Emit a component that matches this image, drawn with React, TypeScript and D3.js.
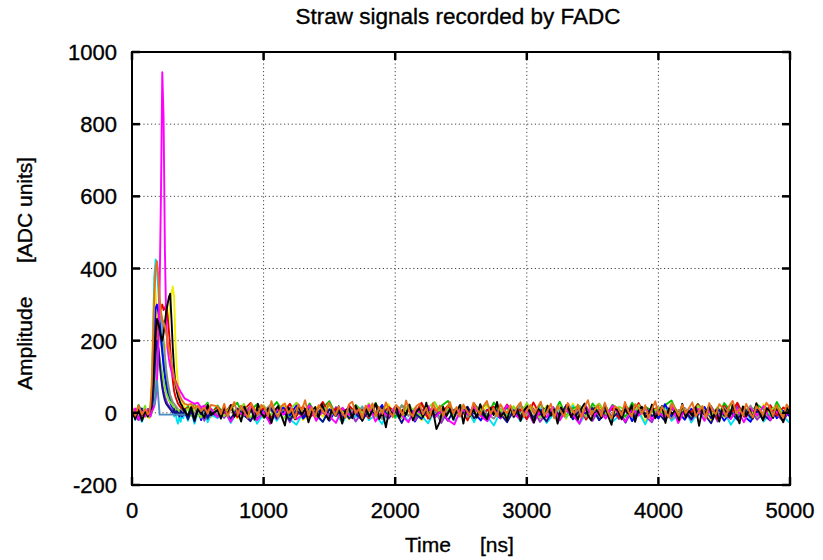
import React, { useEffect, useRef } from "react";
import * as d3 from "d3";

// axis ticks
const xTicks = [0, 1000, 2000, 3000, 4000, 5000];
const yTicks = [-200, 0, 200, 400, 600, 800, 1000];

// sample times of the head part (pre-trigger, pulse, early tail)
const headTimes = [0, 25, 50, 75, 100, ...d3.range(110, 401, 10), ...d3.range(425, 601, 25)];
const tailStart = 650;
const tailEnd = 5000;

// each trace: head (43 samples on headTimes) + baseline tail (650..5000)
const yellowHead = [-8, 10, -15, 6, -12,
  -10, 5, -15, 10, 80, 250, 380, 330, 260, 220, 200, 230, 210, 180, 170, 190, 220, 260, 300, 330, 350, 320, 200, 120, 80, 50, 40, 30, 25, 15,
  10, 20, 5, -10, 15, -5, 8, -12];
const yellowTail = [12, -8, 20, -15, 5, -22, 18, -3, 9, -17, 25, -6, 14, -20, 3, 16, -11, 22, -9, 7, -18, 11, -4, 19, -13, 2, 24, -16, 8, -7, 15, -21, 4, 17, -10, 21, -5, 13, -19, 6, -12, 23, -2, 10, -23, 18, -8, 1, 14, -15, 20, -6, 9, -17, 26, -11, 5, -20, 16, -3, 12, -14, 19, -9, 3, -24, 15, -7, 22, -12, 8, -18, 11, -1, 17, -22, 6, 13, -10, 20, -4, 9, -16, 24, -8, 2, -19, 14];

const cyanHead = [12, -20, 5, -25, 0,
  5, -10, 0, -5, 40, 200, 380, 425, 400, 340, 280, 230, 190, 150, 120, 90, 70, 50, 35, 25, 10, -10, 5, -20, -30, -10, -25, 0, -15, 5,
  -22, 8, -30, 4, -18, 10, -26, -5];
const cyanTail = [-15, 8, -28, 4, -10, 15, -30, -2, 11, -22, 6, -18, -33, 3, 14, -9, -25, 10, -4, -27, 7, -12, 18, -20, -6, -31, 9, -14, 2, -24, 13, -8, -29, 5, -16, 12, -21, -3, 8, -26, 16, -11, -35, 4, -7, 10, -23, 1, -18, 14, -28, -5, 9, -13, 20, -30, -2, 11, -19, 6, -25, -9, 15, -17, 3, -32, 8, -12, 17, -22, -4, 12, -27, 2, -15, 9, -20, 5, -33, -6, 13, -18, 7, -24, -1, 16, -11, -28];

const greenHead = [15, -5, 22, 3, 10,
  0, -5, 10, -10, 20, 80, 160, 220, 250, 240, 220, 200, 170, 140, 110, 90, 70, 55, 40, 30, 20, 10, 15, 0, 5, -5, 10, 0, 5, -5,
  20, -8, 25, 5, -12, 18, 28, -3];
const greenTail = [20, -5, 12, 28, -10, 6, 24, -14, 9, 30, 2, -12, 18, -3, 26, -8, 14, 32, -6, 10, -15, 22, 4, -9, 27, -2, 16, -11, 21, 8, -16, 25, 1, -7, 19, 33, -4, 11, -13, 23, 5, -10, 29, -1, 15, -12, 20, 7, -17, 24, 3, -6, 31, -9, 13, 18, -14, 26, 0, -8, 22, 10, -11, 28, -3, 17, 6, -15, 21, 34, -5, 12, -9, 25, 2, 19, -13, 27, 4, -7, 16, -2, 23, 9, -12, 30, -4, 14];

const blueHead = [-10, 8, -18, 12, -4,
  -5, 10, -10, 0, 30, 120, 220, 290, 300, 280, 250, 210, 170, 130, 100, 75, 55, 40, 30, 20, 15, 5, 0, 10, -5, 5, 0, -10, 5, 0,
  -15, 12, -6, 18, -20, 4, -12, 9];
const blueTail = [-8, 14, -20, 6, -3, 18, -12, 9, -25, 2, 15, -7, 21, -16, 5, -1, 12, -22, 8, -11, 17, -4, -19, 10, -6, 22, -14, 3, -9, 16, -24, 7, 11, -2, -18, 13, -8, 20, -13, 1, -21, 9, 4, -15, 19, -5, -10, 14, -26, 6, 12, -3, -17, 21, -7, 8, -12, 15, -20, 0, 10, -9, 18, -23, 5, -4, 13, -16, 24, -11, 2, -19, 11, -6, 16, -14, 7, -22, 3, 17, -8, -25, 9, -2, 20, -15, 6, -10];

const purpleHead = [4, -12, 14, -6, 9,
  0, 5, -5, 10, 0, 20, 50, 110, 160, 180, 150, 110, 80, 60, 45, 35, 25, 20, 15, 10, 5, 10, 0, 5, -5, 0, 10, -5, 5, 0,
  -10, 14, -18, 6, 12, -22, 3, -8];
const purpleTail = [6, -14, 11, -3, 19, -22, 4, -9, 15, -17, 8, -26, 13, -5, 20, -11, 2, -19, 16, -7, 10, -24, 5, -13, 21, -2, -16, 12, -8, 18, -21, 3, -10, 14, -28, 7, -4, 17, -15, 9, -1, -20, 13, -6, 22, -12, 5, -18, 11, -25, 0, 16, -9, 8, -14, 19, -3, -22, 10, -7, 15, -17, 4, -11, 23, -8, -26, 12, -2, 18, -13, 6, -20, 9, -5, 14, -24, 3, -16, 20, -10, 7, -19, 1, 13, -6, -23, 11];

const redHead = [10, -4, 18, -8, 6,
  0, -10, 5, 0, 10, 40, 100, 170, 230, 260, 280, 290, 300, 285, 290, 300, 270, 230, 180, 130, 90, 60, 45, 35, 25, 20, 15, 10, 5, 10,
  14, -6, 20, 2, -10, 16, 8, -4];
const redTail = [15, -6, 22, -12, 8, 27, -3, 14, -18, 10, 2, 25, -9, 18, -14, 6, 30, -5, 12, -20, 20, -1, 9, -15, 24, -8, 16, 3, -11, 21, -4, 28, -16, 11, 0, 19, -10, 13, -21, 26, -7, 7, 17, -13, 23, -2, 10, -17, 29, -6, 14, 4, -12, 21, -9, 18, -19, 8, 25, -4, 12, -14, 20, -1, 27, -11, 6, 16, -8, 22, -15, 9, 2, 24, -6, 13, -18, 19, -3, 28, -10, 11, 5, -16, 21, -7, 15, -2];

const greyHead = [-2, 9, -12, 5, 0,
  5, 0, -5, 10, 0, 20, 60, 120, 180, 230, 260, 270, 240, 200, 160, 120, 90, 70, 50, 40, 30, 25, 20, 15, 10, 5, 10, 0, 5, 0,
  -8, 12, -4, 15, -14, 6, -2, 10];
const greyTail = [-4, 11, -15, 8, -1, 17, -10, 3, 22, -8, 6, -19, 13, -2, 9, -14, 18, -6, 1, -21, 12, -5, 16, -11, 4, -17, 10, -3, 20, -9, 7, -13, 15, -1, -18, 9, -7, 14, -12, 5, 19, -4, -16, 11, 2, -10, 21, -6, 8, -15, 13, 0, -20, 17, -3, 10, -12, 6, -8, 18, -14, 3, -22, 12, -5, 9, -11, 16, -2, -17, 7, 14, -9, 4, -19, 11, -1, 15, -13, 8, -6, 20, -10, 2, -15, 12, -4, 9];

const lightGreenHead = [8, -6, 15, -2, 20,
  0, 5, -10, 5, 0, 10, 30, 70, 110, 140, 150, 130, 110, 90, 70, 55, 45, 35, 30, 25, 20, 15, 10, 5, 10, 0, 5, -5, 0, 5,
  12, -8, 20, 4, -12, 16, 24, -2];
const lightGreenTail = [10, -9, 18, -4, 25, -13, 7, 21, -7, 14, -17, 9, 28, -2, 16, -11, 5, 22, -8, 12, -15, 19, -1, 26, -10, 8, -5, 17, -14, 23, 2, -9, 15, 30, -6, 11, -12, 20, 4, -16, 13, 24, -3, 9, -11, 18, -7, 27, 1, -13, 15, -4, 21, -10, 6, 19, -8, 12, 25, -2, -15, 17, 8, -6, 22, -11, 3, 14, -9, 28, -1, 10, -14, 20, 5, -7, 16, -12, 24, 0, 11, -5, 18, -10, 6, 21, -3, 13];

const darkBlueHead = [-12, 4, -20, 8, -6,
  -5, 0, 10, -5, 5, 40, 110, 170, 200, 180, 140, 100, 70, 50, 35, 25, 20, 15, 10, 5, 0, 10, -5, 5, 0, -10, 5, 0, -5, 10,
  -18, 6, -24, 10, -4, 14, -16, 2];
const darkBlueTail = [-10, 5, -18, 12, -6, -23, 9, -2, 15, -14, 3, -20, 7, -11, 18, -5, -25, 10, -8, 13, -16, 1, -21, 8, -4, 16, -13, 6, -28, 11, -1, -17, 14, -9, 4, -22, 9, -6, 17, -15, 2, -19, 12, -3, -26, 7, -10, 15, -12, 0, -24, 10, -7, 19, -18, 5, -2, 13, -20, 8, -14, 3, -27, 11, -5, 16, -9, -1, -22, 14, -11, 6, -17, 9, -4, -29, 12, -8, 2, -19, 15, -13, 4, -6, -21, 10, -16, 7];

const magentaHead = [-6, 12, -20, 4, -10,
  -5, 10, 0, -10, 5, 10, 20, 40, 90, 180, 350, 600, 944, 820, 450, 250, 180, 150, 130, 115, 100, 95, 90, 80, 72, 65, 58, 52, 46, 40,
  35, 30, 25, 28, 15, 20, 10, 12];
const magentaTail = [-12, 10, -25, 5, -8, 18, -20, 2, -30, 12, -5, 15, -18, -3, 20, -22, 8, -10, -28, 14, -6, 9, -16, 22, -24, 4, -11, 17, -7, -26, 11, -2, 19, -14, 6, -20, -32, 13, -4, 16, -9, -23, 7, -15, 21, -1, -18, 10, -27, 3, -12, 14, -21, 8, -6, -30, 18, -10, 5, -16, 20, -3, -25, 12, -8, 15, -19, 1, -13, 22, -28, 6, -5, 11, -22, 17, -11, 2, -17, 9, -26, 13, -7, 19, -20, 4, -14, 8];

const blackHead = [6, -18, 12, -22, 3,
  0, -10, 5, 10, 40, 100, 170, 230, 260, 250, 230, 210, 200, 220, 250, 280, 300, 320, 330, 260, 180, 120, 80, 60, 45, 35, 25, 20, 10, 5,
  -8, 16, -20, 10, 2, -14, 22, -6];
const blackTail = [8, -16, 14, -4, 21, -11, 3, -24, 17, -7, 10, -19, 25, -2, -13, 12, -28, 6, 19, -9, -35, 15, 1, -18, 22, -6, 11, -26, 4, 16, -12, 24, -3, -20, 9, -8, 18, -30, 7, 13, -15, 20, -1, -22, 14, -10, 5, 26, -17, 2, -40, 11, -7, 19, -14, 8, -5, 23, -21, 3, 12, -11, 28, -16, 6, -45, -25, 17, -9, 10, -19, 4, 22, -30, 15, -8, 9, -13, 24, -2, -18, 14, -6, 30, -12, 1, -20, 16,
  -10, 12, -22, 7, 18, -5, -27, 14, 3, -16, 20, -8, 9, -30, 15, -3, 22, -12, 5, -19, 11, 26, -7, -21, 13, 1, -14, 24, -9, -33, 16, 4, -18, 10, -2, 21, -25, 8, 17, -11, -6, 23, -15, 2, 19, -28, 12, -4, 9, -20, 25, -13, 6, -8, 15, -36, 11, -1, 20, -17, 7, -24, 14, 3, -12, 22, -5, -29, 18, -9, 10, -16, 27, -2, -21, 13, 5, -14, 19, -7, -26, 16, -3];

const orangeHead = [15, -8, 20, -4, 10,
  5, -5, 0, 20, 80, 200, 330, 400, 420, 380, 320, 280, 260, 250, 240, 220, 200, 180, 160, 140, 120, 100, 85, 70, 60, 50, 42, 35, 30, 25,
  22, 25, 12, 20, 5, 15, -2, 22];
const orangeTail = [18, -3, 25, -10, 12, 30, -6, 20, 2, -14, 27, 8, -5, 22, 14, -9, 32, 4, -12, 19, 26, -2, 11, -16, 24, 6, 35, -7, 15, -11, 21, 9, -4, 28, 13, -8, 17, 1, -13, 23, 31, -1, 10, -15, 20, 5, 26, -9, 16, -3, 29, 7, -12, 22, 12, -6, 34, 2, -10, 18, 25, -4, 14, -14, 27, 3, 20, -8, 11, 30, -2, 16, -11, 23, 6, -7, 28, 10, -5, 19, 33, -3, 13, -9, 24, 8, -1, 21,
  -6, 17, 29, -12, 9, 22, -4, 14, 31, -8, 6, 25, -15, 19, 3, -10, 27, 11, -2, 23, -13, 16, 35, -5, 8, 20, -9, 28, 1, -16, 18, 12, -7, 30, 4, -11, 24, 15, -3, 21, -14, 10, 32, -6, 17, 2, -12, 26, 9, -8, 22, -1, 13, 29, -10, 5, 19, -15, 27, 7, -4, 24, 14, -11, 20, 33, -2, 11, -7, 25, 3, -13, 18, 8, -5, 28, 16, -9, 21, 0, -14, 23, 10];

// short flat piece drawn in steel blue
const steelTimes = [170, 190, 210, 270, 400];
const steelValues = [20, 90, -5, -5, -5];

const traces = [
  { color: "#f2ee00", head: yellowHead, tail: yellowTail },
  { color: "#00e0f0", head: cyanHead, tail: cyanTail },
  { color: "#00c000", head: greenHead, tail: greenTail },
  { color: "#0000ff", head: blueHead, tail: blueTail },
  { color: "#9a30c8", head: purpleHead, tail: purpleTail },
  { color: "#e00000", head: redHead, tail: redTail },
  { color: "#8c8c8c", head: greyHead, tail: greyTail },
  { color: "#80e020", head: lightGreenHead, tail: lightGreenTail },
  { color: "#10108c", head: darkBlueHead, tail: darkBlueTail },
  { color: "#ff00ff", head: magentaHead, tail: magentaTail },
  { color: "#000000", head: blackHead, tail: blackTail },
  { color: "#e8701c", head: orangeHead, tail: orangeTail },
];

const W = 823;
const H = 560;
const margin = { left: 132, right: 33, top: 52, bottom: 75 };
const font = "'Liberation Sans', Arial, Helvetica, sans-serif";

const App = () => {
  const svgRef = useRef(null);

  useEffect(() => {
    const svg = d3.select(svgRef.current);
    svg.selectAll("*").remove();

    const x = d3.scaleLinear().domain([0, 5000]).range([margin.left, W - margin.right]);
    const y = d3.scaleLinear().domain([-200, 1000]).range([H - margin.bottom, margin.top]);

    svg.append("defs").append("clipPath").attr("id", "plotclip")
      .append("rect")
      .attr("x", margin.left).attr("y", margin.top)
      .attr("width", W - margin.left - margin.right)
      .attr("height", H - margin.top - margin.bottom);

    // grid
    const grid = svg.append("g").attr("stroke", "#444").attr("stroke-width", 1).attr("stroke-dasharray", "1.2,2.6");
    xTicks.slice(1, -1).forEach((t) => {
      grid.append("line").attr("x1", x(t)).attr("x2", x(t)).attr("y1", y(1000)).attr("y2", y(-200));
    });
    yTicks.slice(1, -1).forEach((t) => {
      grid.append("line").attr("x1", x(0)).attr("x2", x(5000)).attr("y1", y(t)).attr("y2", y(t));
    });

    // traces
    const line = d3.line().x((d) => x(d[0])).y((d) => y(d[1]));
    const plot = svg.append("g").attr("clip-path", "url(#plotclip)");
    traces.forEach((tr) => {
      const pts = tr.head.map((v, i) => [headTimes[i], v]);
      const n = tr.tail.length;
      tr.tail.forEach((v, i) => {
        pts.push([tailStart + (i * (tailEnd - tailStart)) / (n - 1), v]);
      });
      plot.append("path")
        .datum(pts)
        .attr("fill", "none")
        .attr("stroke", tr.color)
        .attr("stroke-width", 1.9)
        .attr("stroke-linejoin", "round")
        .attr("d", line);
    });
    plot.append("path")
      .datum(steelTimes.map((t, i) => [t, steelValues[i]]))
      .attr("fill", "none")
      .attr("stroke", "#4a8ac0")
      .attr("stroke-width", 1.9)
      .attr("d", line);

    // frame
    svg.append("rect")
      .attr("x", x(0)).attr("y", y(1000))
      .attr("width", x(5000) - x(0)).attr("height", y(-200) - y(1000))
      .attr("fill", "none").attr("stroke", "#000").attr("stroke-width", 2);

    // ticks, inward on all sides
    const tk = svg.append("g").attr("stroke", "#000").attr("stroke-width", 2.5);
    const tl = 8;
    xTicks.forEach((t) => {
      tk.append("line").attr("x1", x(t)).attr("x2", x(t)).attr("y1", y(-200)).attr("y2", y(-200) - tl);
      tk.append("line").attr("x1", x(t)).attr("x2", x(t)).attr("y1", y(1000)).attr("y2", y(1000) + tl);
    });
    yTicks.forEach((t) => {
      tk.append("line").attr("x1", x(0)).attr("x2", x(0) + tl).attr("y1", y(t)).attr("y2", y(t));
      tk.append("line").attr("x1", x(5000)).attr("x2", x(5000) - tl).attr("y1", y(t)).attr("y2", y(t));
    });

    const txt = (sel) =>
      sel.attr("font-family", font).attr("fill", "#000").attr("stroke", "#000").attr("stroke-width", 0.35);

    // tick labels
    svg.append("g")
      .selectAll("text")
      .data(xTicks)
      .join("text")
      .attr("x", (d) => x(d))
      .attr("y", y(-200) + 33)
      .attr("text-anchor", "middle")
      .attr("font-size", 22)
      .call(txt)
      .text((d) => d);

    svg.append("g")
      .selectAll("text")
      .data(yTicks)
      .join("text")
      .attr("x", x(0) - 15)
      .attr("y", (d) => y(d) + 8)
      .attr("text-anchor", "end")
      .attr("font-size", 22)
      .call(txt)
      .text((d) => d);

    // title
    svg.append("text")
      .attr("x", 458)
      .attr("y", 24)
      .attr("text-anchor", "middle")
      .attr("font-size", 22.5)
      .call(txt)
      .text("Straw signals recorded by FADC");

    // axis titles
    svg.append("text").attr("x", 405).attr("y", 552)
      .attr("font-size", 21).call(txt).text("Time");
    svg.append("text").attr("x", 480).attr("y", 552)
      .attr("font-size", 21).call(txt).text("[ns]");

    svg.append("text").attr("transform", "translate(32,390) rotate(-90)")
      .attr("font-size", 21).call(txt).text("Amplitude");
    svg.append("text").attr("transform", "translate(32,263) rotate(-90)")
      .attr("font-size", 21).call(txt).text("[ADC units]");
  }, []);

  return (
    <svg
      ref={svgRef}
      width={W}
      height={H}
      style={{ position: "absolute", left: 0, top: 0, background: "#fff" }}
    ></svg>
  );
};

export default App;
